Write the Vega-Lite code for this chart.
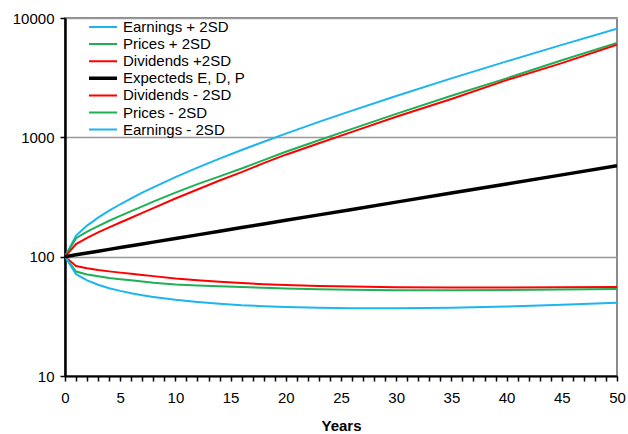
{
  "$schema": "https://vega.github.io/schema/vega-lite/v6.json",
  "width": 552,
  "height": 358,
  "autosize": {"type": "none"},
  "padding": {"left": 65, "top": 18, "right": 11, "bottom": 58},
  "config": {
    "font": "Liberation Sans",
    "view": {"stroke": "#666666", "strokeWidth": 1.5},
    "legend": {"orient": "none", "legendX": 22, "legendY": 1.5, "padding": 0, "rowPadding": 1.1, "clipHeight": 15, "labelFontSize": 15, "labelOffset": 4, "symbolType": "stroke", "symbolSize": 784, "labelColor": "black", "labelLimit": 300}
  },
  "data": {"values": [
    {"s":"Earnings + 2SD","t":0,"v":100},{"s":"Earnings + 2SD","t":1,"v":150.4},{"s":"Earnings + 2SD","t":2,"v":182.2},{"s":"Earnings + 2SD","t":3,"v":212.2},{"s":"Earnings + 2SD","t":4,"v":243.2},{"s":"Earnings + 2SD","t":5,"v":274.9},{"s":"Earnings + 2SD","t":6,"v":308.6},{"s":"Earnings + 2SD","t":7,"v":344.0},{"s":"Earnings + 2SD","t":8,"v":380.9},{"s":"Earnings + 2SD","t":10,"v":463.8},{"s":"Earnings + 2SD","t":12,"v":556.9},{"s":"Earnings + 2SD","t":14,"v":662.5},{"s":"Earnings + 2SD","t":16,"v":782.9},{"s":"Earnings + 2SD","t":18,"v":918.6},{"s":"Earnings + 2SD","t":20,"v":1073},{"s":"Earnings + 2SD","t":23,"v":1347},{"s":"Earnings + 2SD","t":26,"v":1675},{"s":"Earnings + 2SD","t":30,"v":2218},{"s":"Earnings + 2SD","t":35,"v":3120},{"s":"Earnings + 2SD","t":40,"v":4327},{"s":"Earnings + 2SD","t":45,"v":5949},{"s":"Earnings + 2SD","t":50,"v":8119},
    {"s":"Prices + 2SD","t":0,"v":100},{"s":"Prices + 2SD","t":1,"v":143.0},{"s":"Prices + 2SD","t":2,"v":162.4},{"s":"Prices + 2SD","t":3,"v":180.2},{"s":"Prices + 2SD","t":4,"v":200.0},{"s":"Prices + 2SD","t":5,"v":219.4},{"s":"Prices + 2SD","t":6,"v":240.7},{"s":"Prices + 2SD","t":7,"v":264.0},{"s":"Prices + 2SD","t":8,"v":289.6},{"s":"Prices + 2SD","t":10,"v":344.4},{"s":"Prices + 2SD","t":12,"v":405.3},{"s":"Prices + 2SD","t":14,"v":471.2},{"s":"Prices + 2SD","t":16,"v":548.1},{"s":"Prices + 2SD","t":18,"v":644.3},{"s":"Prices + 2SD","t":20,"v":757.8},{"s":"Prices + 2SD","t":23,"v":944.7},{"s":"Prices + 2SD","t":26,"v":1178},{"s":"Prices + 2SD","t":30,"v":1574},{"s":"Prices + 2SD","t":35,"v":2229},{"s":"Prices + 2SD","t":40,"v":3120},{"s":"Prices + 2SD","t":45,"v":4419},{"s":"Prices + 2SD","t":50,"v":6188},
    {"s":"Dividends +2SD","t":0,"v":100},{"s":"Dividends +2SD","t":1,"v":127.4},{"s":"Dividends +2SD","t":2,"v":144.0},{"s":"Dividends +2SD","t":3,"v":159.8},{"s":"Dividends +2SD","t":4,"v":175.8},{"s":"Dividends +2SD","t":5,"v":193.3},{"s":"Dividends +2SD","t":6,"v":212.0},{"s":"Dividends +2SD","t":7,"v":232.6},{"s":"Dividends +2SD","t":8,"v":255.2},{"s":"Dividends +2SD","t":10,"v":307.1},{"s":"Dividends +2SD","t":12,"v":365.4},{"s":"Dividends +2SD","t":14,"v":434.9},{"s":"Dividends +2SD","t":16,"v":511.3},{"s":"Dividends +2SD","t":18,"v":608.3},{"s":"Dividends +2SD","t":20,"v":715.4},{"s":"Dividends +2SD","t":23,"v":891.9},{"s":"Dividends +2SD","t":26,"v":1112},{"s":"Dividends +2SD","t":30,"v":1486},{"s":"Dividends +2SD","t":35,"v":2095},{"s":"Dividends +2SD","t":40,"v":3014},{"s":"Dividends +2SD","t":45,"v":4190},{"s":"Dividends +2SD","t":50,"v":5977},
    {"s":"Dividends - 2SD","t":0,"v":100},{"s":"Dividends - 2SD","t":1,"v":83.6},{"s":"Dividends - 2SD","t":2,"v":79.9},{"s":"Dividends - 2SD","t":3,"v":77.2},{"s":"Dividends - 2SD","t":4,"v":75.3},{"s":"Dividends - 2SD","t":5,"v":73.5},{"s":"Dividends - 2SD","t":6,"v":71.8},{"s":"Dividends - 2SD","t":7,"v":70.2},{"s":"Dividends - 2SD","t":8,"v":68.7},{"s":"Dividends - 2SD","t":10,"v":65.7},{"s":"Dividends - 2SD","t":12,"v":63.5},{"s":"Dividends - 2SD","t":14,"v":61.6},{"s":"Dividends - 2SD","t":16,"v":60.1},{"s":"Dividends - 2SD","t":18,"v":58.8},{"s":"Dividends - 2SD","t":20,"v":57.8},{"s":"Dividends - 2SD","t":23,"v":56.8},{"s":"Dividends - 2SD","t":26,"v":56.1},{"s":"Dividends - 2SD","t":30,"v":55.5},{"s":"Dividends - 2SD","t":35,"v":55.2},{"s":"Dividends - 2SD","t":40,"v":55.2},{"s":"Dividends - 2SD","t":45,"v":55.4},{"s":"Dividends - 2SD","t":50,"v":55.7},
    {"s":"Prices - 2SD","t":0,"v":100},{"s":"Prices - 2SD","t":1,"v":75.0},{"s":"Prices - 2SD","t":2,"v":70.9},{"s":"Prices - 2SD","t":3,"v":68.5},{"s":"Prices - 2SD","t":4,"v":66.2},{"s":"Prices - 2SD","t":5,"v":64.7},{"s":"Prices - 2SD","t":6,"v":63.3},{"s":"Prices - 2SD","t":7,"v":61.9},{"s":"Prices - 2SD","t":8,"v":60.5},{"s":"Prices - 2SD","t":10,"v":58.5},{"s":"Prices - 2SD","t":12,"v":57.3},{"s":"Prices - 2SD","t":14,"v":56.4},{"s":"Prices - 2SD","t":16,"v":55.6},{"s":"Prices - 2SD","t":18,"v":54.9},{"s":"Prices - 2SD","t":20,"v":54.2},{"s":"Prices - 2SD","t":23,"v":53.4},{"s":"Prices - 2SD","t":26,"v":52.8},{"s":"Prices - 2SD","t":30,"v":52.3},{"s":"Prices - 2SD","t":35,"v":52.2},{"s":"Prices - 2SD","t":40,"v":52.5},{"s":"Prices - 2SD","t":45,"v":53.0},{"s":"Prices - 2SD","t":50,"v":53.5},
    {"s":"Earnings - 2SD","t":0,"v":100},{"s":"Earnings - 2SD","t":1,"v":71.3},{"s":"Earnings - 2SD","t":2,"v":63.2},{"s":"Earnings - 2SD","t":3,"v":58.2},{"s":"Earnings - 2SD","t":4,"v":54.4},{"s":"Earnings - 2SD","t":5,"v":51.7},{"s":"Earnings - 2SD","t":6,"v":49.4},{"s":"Earnings - 2SD","t":7,"v":47.5},{"s":"Earnings - 2SD","t":8,"v":46.0},{"s":"Earnings - 2SD","t":10,"v":43.5},{"s":"Earnings - 2SD","t":12,"v":41.7},{"s":"Earnings - 2SD","t":14,"v":40.3},{"s":"Earnings - 2SD","t":16,"v":39.2},{"s":"Earnings - 2SD","t":18,"v":38.5},{"s":"Earnings - 2SD","t":20,"v":37.9},{"s":"Earnings - 2SD","t":23,"v":37.3},{"s":"Earnings - 2SD","t":26,"v":37.0},{"s":"Earnings - 2SD","t":30,"v":37.0},{"s":"Earnings - 2SD","t":35,"v":37.3},{"s":"Earnings - 2SD","t":40,"v":38.2},{"s":"Earnings - 2SD","t":45,"v":39.5},{"s":"Earnings - 2SD","t":50,"v":41.1},
    {"s":"Expecteds E, D, P","t":0,"v":100},{"s":"Expecteds E, D, P","t":1,"v":103.6},{"s":"Expecteds E, D, P","t":2,"v":107.3},{"s":"Expecteds E, D, P","t":3,"v":111.1},{"s":"Expecteds E, D, P","t":4,"v":115.1},{"s":"Expecteds E, D, P","t":5,"v":119.2},{"s":"Expecteds E, D, P","t":6,"v":123.4},{"s":"Expecteds E, D, P","t":7,"v":127.8},{"s":"Expecteds E, D, P","t":8,"v":132.4},{"s":"Expecteds E, D, P","t":10,"v":142.0},{"s":"Expecteds E, D, P","t":12,"v":152.3},{"s":"Expecteds E, D, P","t":14,"v":163.4},{"s":"Expecteds E, D, P","t":16,"v":175.3},{"s":"Expecteds E, D, P","t":18,"v":188.0},{"s":"Expecteds E, D, P","t":20,"v":201.6},{"s":"Expecteds E, D, P","t":23,"v":224.0},{"s":"Expecteds E, D, P","t":26,"v":248.9},{"s":"Expecteds E, D, P","t":30,"v":286.4},{"s":"Expecteds E, D, P","t":35,"v":341.3},{"s":"Expecteds E, D, P","t":40,"v":406.6},{"s":"Expecteds E, D, P","t":45,"v":484.6},{"s":"Expecteds E, D, P","t":50,"v":577.5}
  ]},
  "mark": {"type": "line", "clip": true},
  "encoding": {
    "x": {
      "field": "t", "type": "quantitative",
      "scale": {"domain": [0, 50], "nice": false, "zero": false},
      "axis": {
        "values": [0,1,2,3,4,5,6,7,8,9,10,11,12,13,14,15,16,17,18,19,20,21,22,23,24,25,26,27,28,29,30,31,32,33,34,35,36,37,38,39,40,41,42,43,44,45,46,47,48,49,50],
        "labelExpr": "datum.value % 5 === 0 ? datum.label : ''",
        "labelOverlap": false, "labelFlush": false, "labelAngle": 0,
        "grid": false,
        "domainColor": "black", "domainWidth": 2,
        "tickColor": "black", "tickWidth": 1.5, "tickSize": 5,
        "labelFontSize": 15, "labelColor": "black", "labelPadding": 9,
        "title": "Years", "titleFontSize": 15, "titleFontWeight": "bold", "titleColor": "black", "titlePadding": 13
      }
    },
    "y": {
      "field": "v", "type": "quantitative",
      "scale": {"type": "log", "domain": [10, 10000], "nice": false},
      "axis": {
        "values": [10, 100, 1000, 10000],
        "format": "d",
        "grid": true, "gridColor": "#999999", "gridWidth": 1.5,
        "domainColor": "black", "domainWidth": 2.5,
        "tickColor": "black", "tickWidth": 1.5, "tickSize": 5,
        "labelFontSize": 15, "labelColor": "black", "labelPadding": 6,
        "title": null
      }
    },
    "color": {
      "field": "s", "type": "ordinal",
      "scale": {
        "domain": ["Earnings + 2SD", "Prices + 2SD", "Dividends +2SD", "Expecteds E, D, P", "Dividends - 2SD", "Prices - 2SD", "Earnings - 2SD"],
        "range": ["#1CB5F0", "#1FAF55", "#FF0000", "#000000", "#FF0000", "#1FAF55", "#1CB5F0"]
      },
      "legend": {"title": null}
    },
    "strokeWidth": {
      "field": "s", "type": "ordinal",
      "scale": {
        "type": "ordinal",
        "domain": ["Earnings + 2SD", "Prices + 2SD", "Dividends +2SD", "Expecteds E, D, P", "Dividends - 2SD", "Prices - 2SD", "Earnings - 2SD"],
        "range": [2, 2, 2, 3.5, 2, 2, 2]
      },
      "legend": {"title": null}
    }
  }
}
